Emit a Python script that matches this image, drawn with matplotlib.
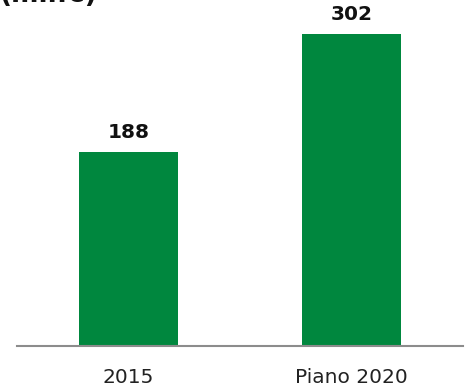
import matplotlib
matplotlib.use('Agg')
import matplotlib.pyplot as plt

categories = ['2015', 'Piano 2020']
values = [188, 302]
unit_label = '(mln\u20ac)'

bar_color = '#00873E'

fig = plt.figure(figsize=(4.69, 3.91), dpi=100)
ax = fig.add_axes([17/469, 45/391, 446/469, 346/391])

x = range(len(categories))
bars = ax.bar(x, values, width=0.445, color=bar_color)
ax.set_xlim(-0.5, 1.5)
ax.set_ylim(0, 335.3)

for b, v in zip(bars, values):
    ax.text(b.get_x() + b.get_width()/2, v + 10, str(v), ha='center', va='bottom',
            fontsize=14.5, fontweight='bold', color='#111111')

ax.set_xticks(list(x))
ax.set_xticklabels(categories, fontsize=14.5, color='#222222')
ax.tick_params(axis='x', length=0, pad=16)
ax.set_yticks([])
for s in ['top', 'right', 'left']:
    ax.spines[s].set_visible(False)
ax.spines['bottom'].set_color('#8c8c8c')
ax.spines['bottom'].set_linewidth(1.5)

# unit label is cut off by the top edge, as in the original slide
fig.text(0.0, 1 - 1.5/391, unit_label, ha='left', va='baseline',
         fontsize=19, fontweight='bold', color='#111111')

fig.savefig('out.png', dpi=100)
